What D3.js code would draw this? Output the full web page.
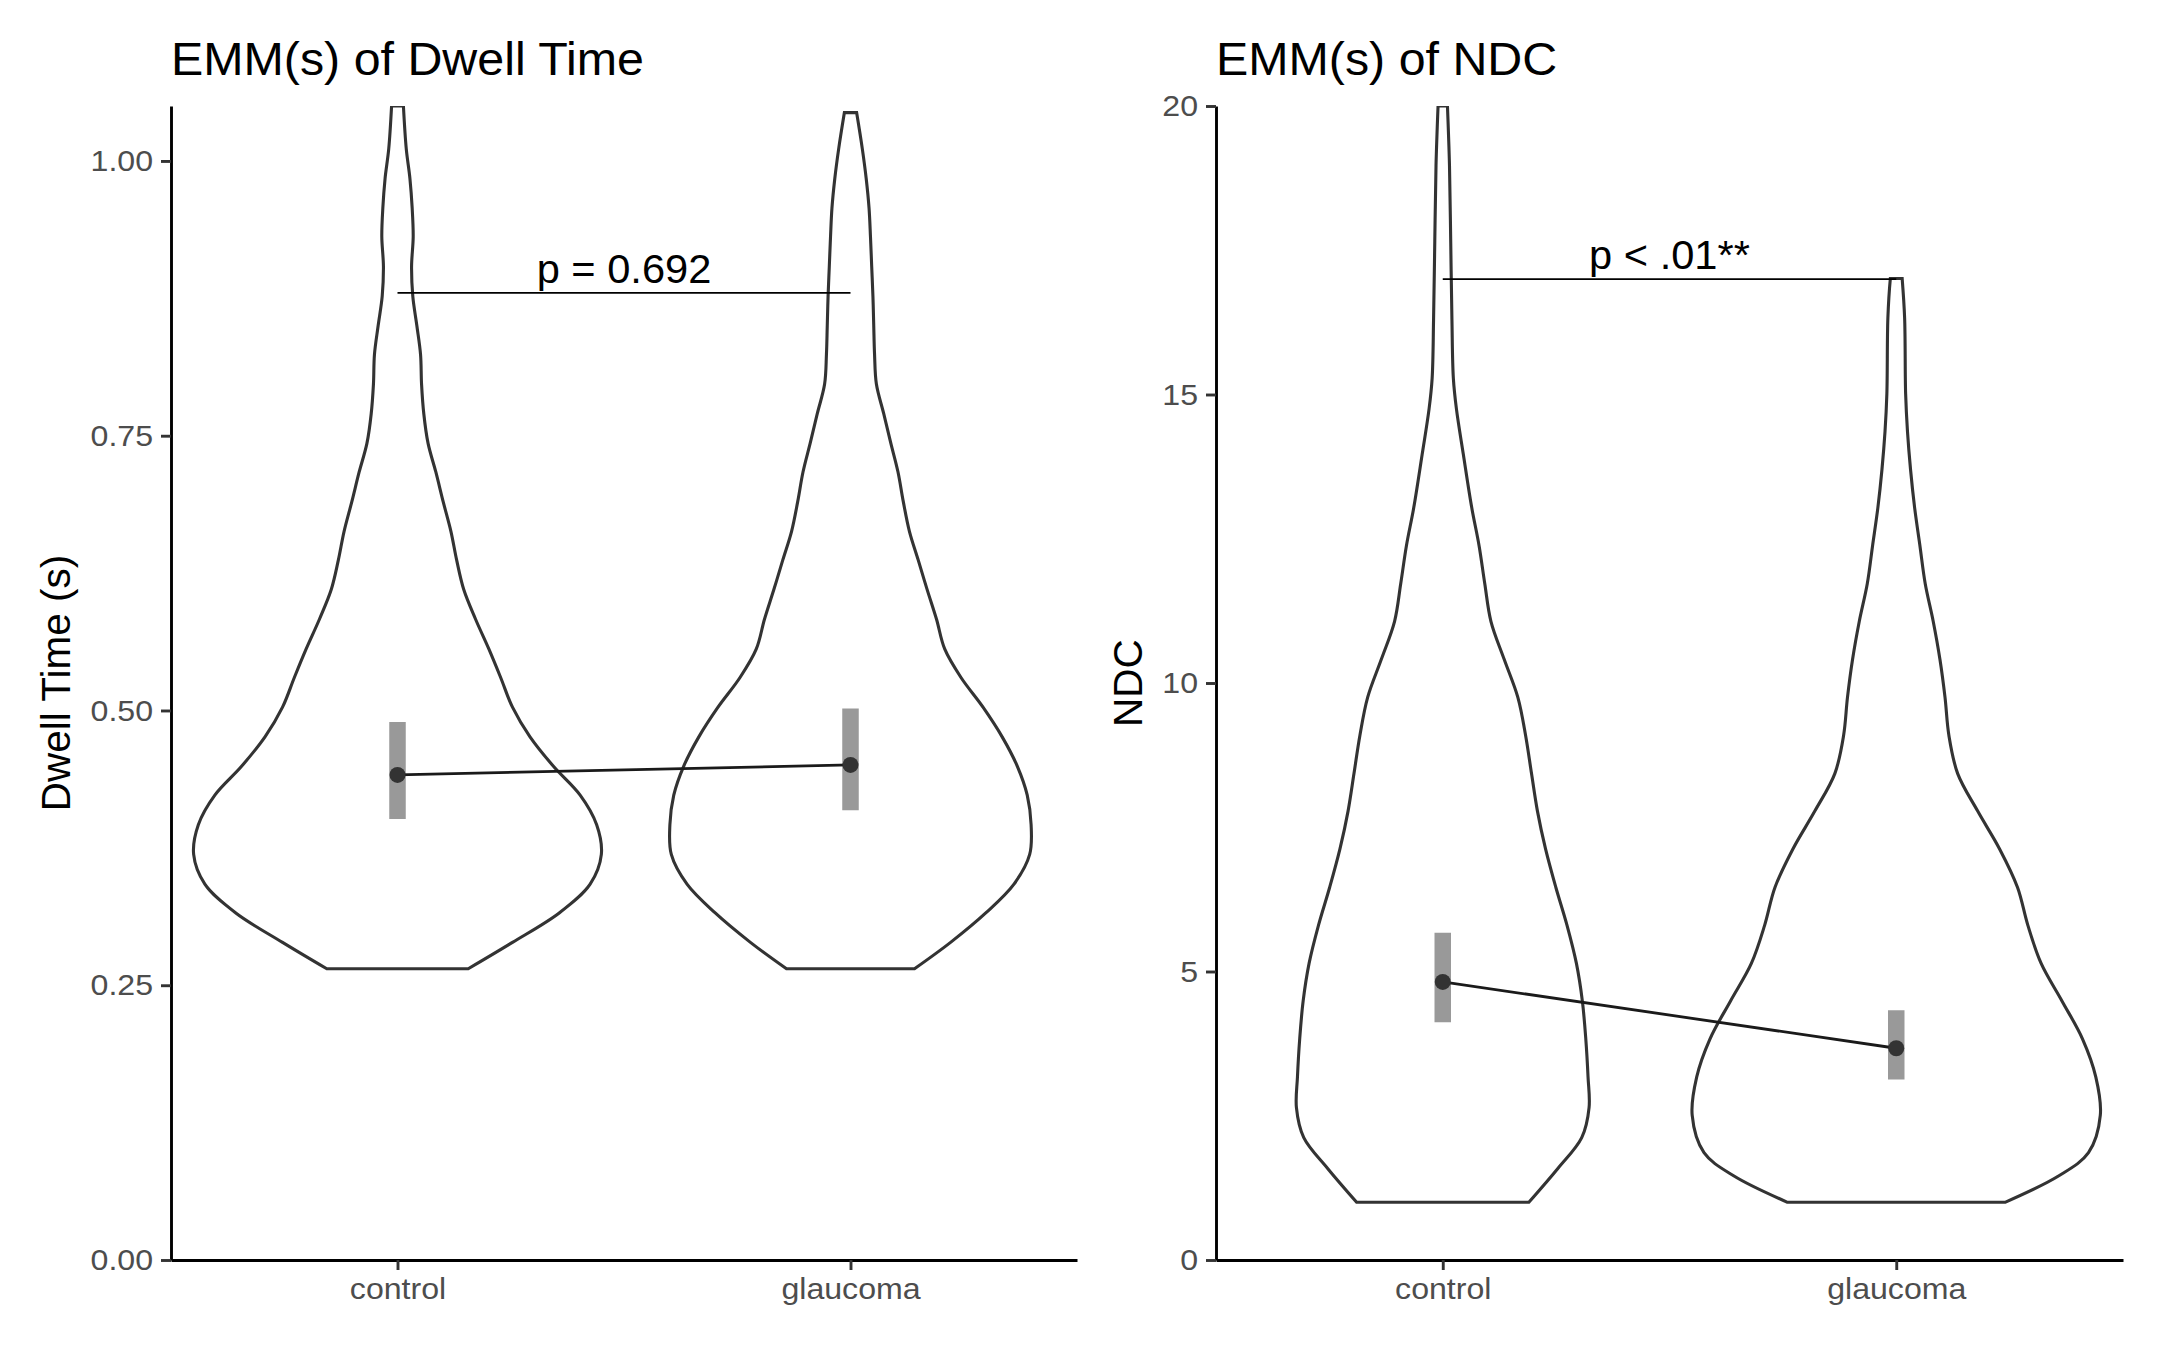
<!DOCTYPE html>
<html>
<head>
<meta charset="utf-8">
<script src="https://cdn.jsdelivr.net/npm/d3@7"></script>
<style>
body { margin: 0; background: #fff; }
text { font-family: "Liberation Sans", Arial, sans-serif; }
</style>
</head>
<body>
<div id="chart"></div>
<script>
/* groups on the x axis */
var groups = ["control", "glaucoma"];

/* y ticks of both panels */
var dwellTicks = [0, 0.25, 0.5, 0.75, 1.0];
var ndcTicks = [0, 5, 10, 15, 20];

/* violin outlines: [value, relative density] */
var dwellControlViolin = [
    [1.050, 0.029], [1.011, 0.043], [0.984, 0.061], [0.957, 0.072], [0.931, 0.077],
    [0.904, 0.069], [0.877, 0.075], [0.850, 0.095], [0.824, 0.113], [0.797, 0.118],
    [0.770, 0.129], [0.743, 0.150], [0.717, 0.188], [0.690, 0.224], [0.663, 0.262],
    [0.637, 0.290], [0.610, 0.325], [0.583, 0.383], [0.556, 0.448], [0.530, 0.506],
    [0.503, 0.564], [0.476, 0.650], [0.449, 0.766], [0.423, 0.896], [0.396, 0.977],
    [0.369, 1.000], [0.342, 0.945], [0.316, 0.795], [0.289, 0.564], [0.265, 0.347]
];
var dwellGlaucomaViolin = [
    [1.044, 0.030], [1.011, 0.058], [0.984, 0.077], [0.957, 0.091], [0.931, 0.098],
    [0.904, 0.104], [0.877, 0.110], [0.850, 0.114], [0.824, 0.118], [0.797, 0.127],
    [0.770, 0.163], [0.743, 0.198], [0.717, 0.233], [0.690, 0.259], [0.663, 0.289],
    [0.637, 0.332], [0.610, 0.376], [0.583, 0.422], [0.556, 0.462], [0.530, 0.542],
    [0.503, 0.650], [0.476, 0.744], [0.449, 0.819], [0.423, 0.867], [0.396, 0.886],
    [0.369, 0.879], [0.342, 0.802], [0.316, 0.665], [0.289, 0.491], [0.265, 0.314]
];
var ndcControlViolin = [
    [20.00, 0.023], [18.97, 0.033], [17.66, 0.039], [16.30, 0.045], [15.28, 0.052],
    [14.75, 0.067], [13.96, 0.101], [13.04, 0.142], [12.38, 0.178], [11.72, 0.206],
    [11.07, 0.236], [10.41, 0.301], [9.75, 0.368], [9.09, 0.406], [8.43, 0.435],
    [7.78, 0.464], [7.12, 0.504], [6.46, 0.554], [5.80, 0.609], [5.14, 0.655],
    [4.49, 0.684], [3.83, 0.701], [3.17, 0.712], [2.64, 0.717], [2.12, 0.681],
    [1.59, 0.565], [1.00, 0.422]
];
var ndcGlaucomaViolin = [
    [17.01, 0.029], [16.33, 0.041], [15.01, 0.046], [14.36, 0.055], [13.70, 0.070],
    [13.04, 0.090], [12.38, 0.116], [11.72, 0.142], [11.07, 0.181], [10.41, 0.214],
    [9.75, 0.239], [9.09, 0.258], [8.43, 0.301], [7.78, 0.399], [7.12, 0.507],
    [6.46, 0.594], [5.80, 0.645], [5.14, 0.710], [4.49, 0.812], [3.83, 0.913],
    [3.17, 0.978], [2.51, 1.000], [1.86, 0.942], [1.46, 0.797], [1.00, 0.533]
];

/* estimated marginal means with confidence limits */
var dwellMeans = [0.4414, 0.4505];
var dwellLower = [0.4013, 0.4093];
var dwellUpper = [0.4895, 0.5018];
var ndcMeans = [4.82, 3.67];
var ndcLower = [4.12, 3.13];
var ndcUpper = [5.67, 4.33];

/* comparison brackets */
var dwellBracket = 0.88;
var ndcBracket = 17;
var dwellLabel = "p = 0.692";
var ndcLabel = "p < .01**";

var svgWidth = 2160;
var svgHeight = 1350;
var plotTop = 106;
var plotBottom = 1260;

var svg = d3.select("#chart")
    .append("svg")
    .attr("width", svgWidth)
    .attr("height", svgHeight)
    .style("background", "#fff");

/* widen text a little, the reference glyphs are slightly wide */
function stretch(sel, k)
{
    sel.each(function () {
        var w = this.getComputedTextLength();
        d3.select(this).attr("textLength", w * k).attr("lengthAdjust", "spacingAndGlyphs");
    });
}

/* draws one panel */
function panel(cfg)
{
    var g = svg.append("g");

    var x = d3.scalePoint().domain(groups).range([cfg.left, cfg.right]).padding(0.5);
    var y = d3.scaleLinear().domain(cfg.domain).range([plotBottom, plotTop]);
    var halfMax = 0.45 * x.step();

    var clipId = "clip" + cfg.id;
    svg.append("defs").append("clipPath").attr("id", clipId)
        .append("rect")
        .attr("x", cfg.left).attr("y", plotTop)
        .attr("width", cfg.right - cfg.left).attr("height", plotBottom - plotTop);

    var body = g.append("g").attr("clip-path", "url(#" + clipId + ")");

    /* violins */
    groups.forEach(function (grp, i) {
        var cx = x(grp);
        var area = d3.area()
            .y(function (d) { return y(d[0]); })
            .x0(function (d) { return cx - d[1] * halfMax; })
            .x1(function (d) { return cx + d[1] * halfMax; })
            .curve(d3.curveCatmullRom);
        body.append("path")
            .attr("d", area(cfg.violins[i]))
            .attr("fill", "#fff")
            .attr("stroke", "#333333")
            .attr("stroke-width", 3.1);
    });

    /* error bars */
    body.selectAll(".ci").data(groups).enter().append("line")
        .attr("x1", function (d) { return x(d); })
        .attr("x2", function (d) { return x(d); })
        .attr("y1", function (d, i) { return y(cfg.lower[i]); })
        .attr("y2", function (d, i) { return y(cfg.upper[i]); })
        .attr("stroke", "#999999")
        .attr("stroke-width", 16.5);

    /* line joining the means */
    var meanLine = d3.line()
        .x(function (d) { return x(d); })
        .y(function (d, i) { return y(cfg.means[i]); });
    body.append("path")
        .attr("d", meanLine(groups))
        .attr("fill", "none")
        .attr("stroke", "#1a1a1a")
        .attr("stroke-width", 2.8);

    body.selectAll(".mean").data(groups).enter().append("circle")
        .attr("cx", function (d) { return x(d); })
        .attr("cy", function (d, i) { return y(cfg.means[i]); })
        .attr("r", 8)
        .attr("fill", "#333333");

    /* comparison bracket */
    body.append("line")
        .attr("x1", x(groups[0])).attr("x2", x(groups[1]))
        .attr("y1", y(cfg.bracket)).attr("y2", y(cfg.bracket))
        .attr("stroke", "#000")
        .attr("stroke-width", 1.8);
    var lab = g.append("text")
        .attr("x", (x(groups[0]) + x(groups[1])) / 2)
        .attr("y", y(cfg.bracket) - 10)
        .attr("text-anchor", "middle")
        .attr("font-size", 40)
        .attr("fill", "#000")
        .text(cfg.label);
    stretch(lab, 1.04);

    /* axes */
    var yAxis = g.append("g")
        .attr("transform", "translate(" + cfg.left + ",0)")
        .call(d3.axisLeft(y).tickValues(cfg.ticks).tickFormat(cfg.fmt)
            .tickSize(10).tickSizeOuter(0).tickPadding(8));
    var xAxis = g.append("g")
        .attr("transform", "translate(0," + plotBottom + ")")
        .call(d3.axisBottom(x).tickSize(10).tickSizeOuter(0).tickPadding(8));

    [yAxis, xAxis].forEach(function (ax) {
        ax.select(".domain").attr("stroke", "#000").attr("stroke-width", 2.9);
        ax.selectAll(".tick line").attr("stroke", "#333333").attr("stroke-width", 2.9);
        var t = ax.selectAll(".tick text")
            .attr("font-size", 30)
            .attr("fill", "#4d4d4d")
            .style("font-family", "'Liberation Sans', Arial, sans-serif");
        stretch(t, 1.07);
    });

    /* titles */
    var title = g.append("text")
        .attr("x", cfg.left)
        .attr("y", 75)
        .attr("font-size", 46.5)
        .attr("fill", "#000")
        .text(cfg.title);
    stretch(title, 1.04);

    g.append("text")
        .attr("transform", "translate(" + cfg.ytitleX + "," + ((plotTop + plotBottom) / 2) + ") rotate(-90)")
        .attr("text-anchor", "middle")
        .attr("font-size", 40.5)
        .attr("fill", "#000")
        .text(cfg.ytitle);
}

panel({
    id: "dwell",
    left: 171, right: 1077,
    domain: [0, 1.05],
    ticks: dwellTicks,
    fmt: d3.format(".2f"),
    violins: [dwellControlViolin, dwellGlaucomaViolin],
    means: dwellMeans, lower: dwellLower, upper: dwellUpper,
    bracket: dwellBracket, label: dwellLabel,
    title: "EMM(s) of Dwell Time",
    ytitle: "Dwell Time (s)",
    ytitleX: 69.5
});

panel({
    id: "ndc",
    left: 1216, right: 2123,
    domain: [0, 20],
    ticks: ndcTicks,
    fmt: d3.format("d"),
    violins: [ndcControlViolin, ndcGlaucomaViolin],
    means: ndcMeans, lower: ndcLower, upper: ndcUpper,
    bracket: ndcBracket, label: ndcLabel,
    title: "EMM(s) of NDC",
    ytitle: "NDC",
    ytitleX: 1142
});
</script>
</body>
</html>
